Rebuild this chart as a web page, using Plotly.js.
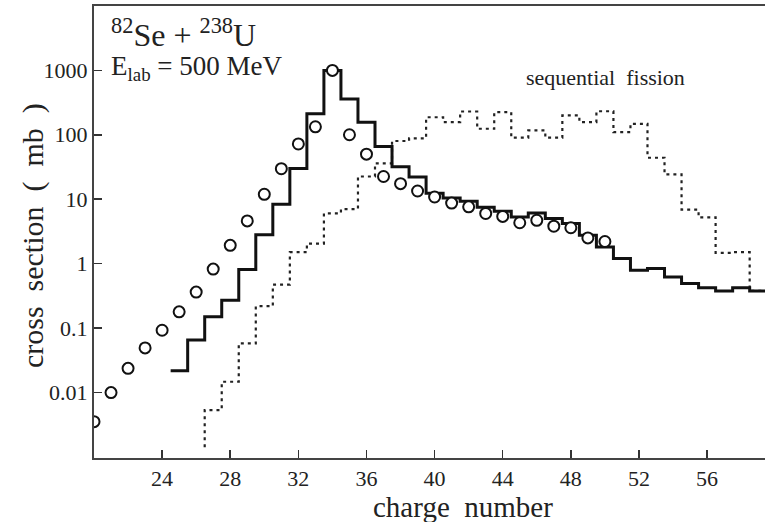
<!DOCTYPE html>
<html><head><meta charset="utf-8">
<script src="https://cdn.plot.ly/plotly-3.0.1.min.js"></script>
<style>html,body{margin:0;padding:0;background:#fff;overflow:hidden}</style>
</head><body><div id="chart" style="width:765px;height:522px"></div>
<script>
// Experimental cross sections (open circles)
const expCharge = [20,21,22,23,24,25,26,27,28,29,30,31,32,33,34,35,36,37,38,39,40,41,42,43,44,45,46,47,48,49,50];
const expCross  = [0.0035,0.0099,0.0236,0.049,0.092,0.178,0.36,0.82,1.92,4.6,11.9,29.7,72,133,1000,100,50,22.5,17.4,13.4,10.8,8.7,7.6,6.0,5.4,4.3,4.7,3.8,3.6,2.5,2.2];
// Calculation (solid histogram)
const calcCharge = [25,26,27,28,29,30,31,32,33,34,35,36,37,38,39,40,41,42,43,44,45,46,47,48,49,50,51,52,53,54,55,56,57,58,59];
const calcCross  = [0.0216,0.065,0.149,0.27,0.81,2.8,8.3,30,212,1000,361,157,66,32,22,12.4,10.4,9.3,7.5,6.5,5.3,6.1,5.0,4.2,2.75,1.8,1.2,0.79,0.84,0.62,0.49,0.42,0.376,0.42,0.376];
// Sequential fission (dotted histogram)
const fissCharge = [27,28,29,30,31,32,33,34,35,36,37,38,39,40,41,42,43,44,45,46,47,48,49,50,51,52,53,54,55,56,57,58,59];
const fissCross  = [0.0053,0.0146,0.0575,0.218,0.47,1.5,2.04,6.0,7.0,22.5,36,80,88,187,157,230,124,224,90,117,90,200,157,232,110,148,44,24.3,6.9,5.2,1.46,1.5,0.376];
const fissStart = 0.0014;   // lower end of the first dotted riser
const xTickVals = [24,28,32,36,40,44,48,52,56];
const yTickVals = [0.01,0.1,1,10,100,1000];
const yTickText = ['0.01','0.1','1','10','100','1000'];

function histPath(z, v, start) {
  const xs = [], ys = [];
  if (start !== undefined) { xs.push(z[0] - 0.5); ys.push(start); }
  for (let i = 0; i < z.length; i++) {
    xs.push(z[i] - 0.5, z[i] + 0.5);
    ys.push(v[i], v[i]);
  }
  return {x: xs, y: ys};
}
const calcPath = histPath(calcCharge, calcCross);
const fissPath = histPath(fissCharge, fissCross, fissStart);

const serif = '"Liberation Serif", "Times New Roman", serif';
const ink = '#222';

const traces = [
  {x: fissPath.x, y: fissPath.y, mode: 'lines', line: {color: '#222', width: 2.2, dash: '3px,4px'}, hoverinfo: 'skip', showlegend: false},
  {x: calcPath.x, y: calcPath.y, mode: 'lines', line: {color: '#111', width: 3}, hoverinfo: 'skip', showlegend: false},
  {x: expCharge, y: expCross, mode: 'markers', marker: {symbol: 'circle', size: 11, color: '#fff', line: {color: '#111', width: 2}}, showlegend: false}
];

const layout = {
  width: 765, height: 522,
  margin: {l: 94, r: 0, t: 6, b: 64},
  paper_bgcolor: '#fff', plot_bgcolor: '#fff',
  font: {family: serif, color: ink},
  showlegend: false,
  xaxis: {
    range: [20, 59.4], tickvals: xTickVals, ticks: 'inside', ticklen: 8, tickwidth: 1.5, tickcolor: '#333',
    showline: true, linewidth: 2, linecolor: '#444', mirror: true,
    showgrid: false, zeroline: false,
    tickfont: {family: serif, size: 22, color: ink}
  },
  yaxis: {
    type: 'log', range: [-3.02, 4.0], tickvals: yTickVals, ticktext: yTickText,
    ticks: 'inside', ticklen: 8, tickwidth: 1.5, tickcolor: '#333',
    showline: true, linewidth: 2, linecolor: '#444', mirror: false,
    showgrid: false, zeroline: false,
    tickfont: {family: serif, size: 22, color: ink}
  },
  annotations: [
    {xref: 'paper', yref: 'paper', x: 0.55, y: -0.109, xanchor: 'center', yanchor: 'middle', showarrow: false,
     text: 'charge\u00a0\u00a0number', font: {family: serif, size: 29, color: ink}},
    {xref: 'paper', yref: 'paper', x: -0.091, y: 0.493, xanchor: 'center', yanchor: 'middle', showarrow: false, textangle: -90,
     text: 'cross\u00a0\u00a0section\u00a0\u00a0(\u00a0\u00a0mb\u00a0\u00a0)', font: {family: serif, size: 30, color: ink}},
    {xref: 'paper', yref: 'paper', x: 0.023, y: 0.94, xanchor: 'left', yanchor: 'middle', showarrow: false,
     text: '<sup>82</sup>Se + <sup>238</sup>U', font: {family: serif, size: 32, color: ink}},
    {xref: 'paper', yref: 'paper', x: 0.023, y: 0.862, xanchor: 'left', yanchor: 'middle', showarrow: false,
     text: 'E<sub>lab</sub> = 500 MeV', font: {family: serif, size: 27, color: ink}},
    {xref: 'paper', yref: 'paper', x: 0.7616, y: 0.841, xanchor: 'center', yanchor: 'middle', showarrow: false,
     text: 'sequential\u00a0\u00a0fission', font: {family: serif, size: 22, color: ink}}
  ]
};

Plotly.newPlot('chart', traces, layout, {staticPlot: true, displayModeBar: false});
</script>
</body></html>
